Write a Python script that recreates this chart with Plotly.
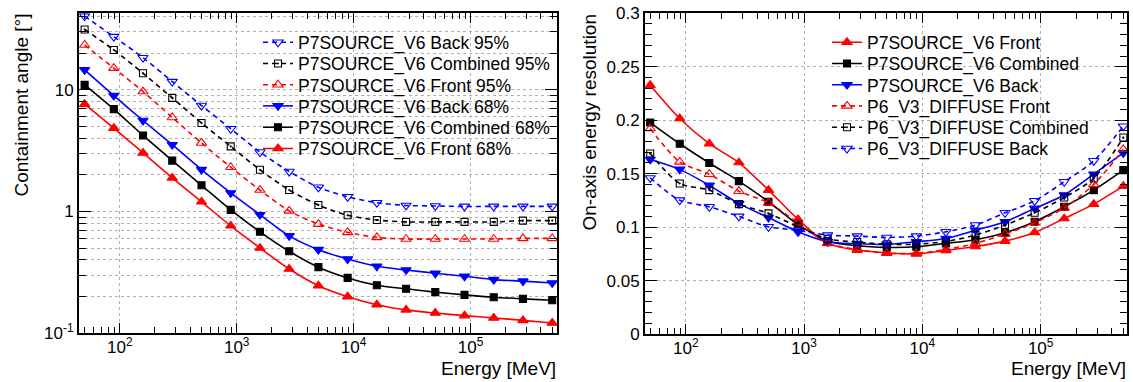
import plotly.graph_objects as go

# ---------------- data ----------------
energy = [50, 88.9, 158, 281, 500, 889, 1581, 2812, 5000, 8891, 15811, 28117,
          50000, 88914, 158114, 281171, 500000]

# Left panel: containment angle [deg]
back95 = [40.4, 27.4, 18.4, 11.7, 7.43, 4.79, 3.08, 2.13, 1.58, 1.32, 1.18, 1.12, 1.11, 1.10, 1.10, 1.10, 1.10]
comb95 = [31.4, 21.3, 13.7, 8.59, 5.34, 3.43, 2.20, 1.50, 1.13, 0.93, 0.85, 0.82, 0.82, 0.82, 0.82, 0.84, 0.84]
front95 = [23.4, 15.1, 9.69, 5.93, 3.66, 2.31, 1.50, 1.01, 0.787, 0.673, 0.612, 0.593, 0.593, 0.593, 0.593, 0.60, 0.60]
back68 = [14.6, 8.98, 5.60, 3.54, 2.21, 1.42, 0.94, 0.63, 0.485, 0.406, 0.354, 0.330, 0.310, 0.293, 0.275, 0.267, 0.258]
comb68 = [11.0, 6.95, 4.22, 2.62, 1.64, 1.03, 0.68, 0.47, 0.348, 0.284, 0.247, 0.231, 0.217, 0.206, 0.197, 0.191, 0.186]
front68 = [7.64, 4.85, 3.03, 1.89, 1.20, 0.762, 0.50, 0.336, 0.245, 0.199, 0.171, 0.155, 0.146, 0.139, 0.133, 0.127, 0.121]

# Right panel: on-axis energy resolution
p7_front = [0.2327, 0.2016, 0.178, 0.1604, 0.1346, 0.1072, 0.0848, 0.0785, 0.0760, 0.0748, 0.0782, 0.0818, 0.0869, 0.0950, 0.108, 0.1215, 0.1383]
p7_comb = [0.1978, 0.178, 0.160, 0.143, 0.1237, 0.1025, 0.087, 0.0825, 0.081, 0.0816, 0.0848, 0.0882, 0.0947, 0.105, 0.119, 0.1346, 0.1533]
p7_back = [0.1633, 0.154, 0.139, 0.122, 0.109, 0.0956, 0.0863, 0.0845, 0.0838, 0.0863, 0.0894, 0.097, 0.105, 0.1175, 0.130, 0.1495, 0.1694]
p6_front = [0.1922, 0.161, 0.1495, 0.1336, 0.1227, 0.104, 0.085, 0.079, 0.0755, 0.0755, 0.079, 0.0848, 0.0935, 0.104, 0.118, 0.140, 0.1726]
p6_comb = [0.1688, 0.1408, 0.1346, 0.1215, 0.1128, 0.1003, 0.089, 0.086, 0.084, 0.084, 0.0865, 0.0925, 0.1019, 0.1134, 0.1277, 0.1455, 0.1838]
p6_back = [0.146, 0.1252, 0.119, 0.110, 0.1003, 0.097, 0.0925, 0.0916, 0.0903, 0.0916, 0.0956, 0.1019, 0.1134, 0.1246, 0.1424, 0.162, 0.1944]

left_names = ["P7SOURCE_V6 Back 95%", "P7SOURCE_V6 Combined 95%", "P7SOURCE_V6 Front 95%",
              "P7SOURCE_V6 Back 68%", "P7SOURCE_V6 Combined 68%", "P7SOURCE_V6 Front 68%"]
right_names = ["P7SOURCE_V6 Front", "P7SOURCE_V6 Combined", "P7SOURCE_V6 Back",
               "P6_V3_DIFFUSE Front", "P6_V3_DIFFUSE Combined", "P6_V3_DIFFUSE Back"]

x_tickvals = [100, 1000, 10000, 100000]
x_ticktext = ["10<sup>2</sup>", "10<sup>3</sup>", "10<sup>4</sup>", "10<sup>5</sup>"]
y_left_tickvals = [0.1, 1, 10]
y_left_ticktext = ["10<sup>-1</sup>", "1", "10"]
y_right_tickvals = [0, 0.05, 0.1, 0.15, 0.2, 0.25, 0.3]
y_right_ticktext = ["0", "0.05", "0.1", "0.15", "0.2", "0.25", "0.3"]

# ---------------- styling ----------------
W, H = 1133, 382
FONT = "Liberation Sans, Arial, Helvetica, sans-serif"
RED, BLACK, BLUE = "#ff0000", "#000000", "#0000ff"
DASH = "5px,4px"

x_minor = [m * 10 ** k for k in range(1, 6) for m in range(2, 10)]
y_log_minor = [m * 10 ** k for k in range(-1, 2) for m in range(2, 10)]

def px_x(p):
    return p / W

def px_y(p):
    return 1 - p / H

styles_left = [
    (back95, BLUE, "triangle-down-open", 9, DASH),
    (comb95, BLACK, "square-open-dot", 7, DASH),
    (front95, RED, "triangle-up-open", 9, DASH),
    (back68, BLUE, "triangle-down", 9, "solid"),
    (comb68, BLACK, "square", 7, "solid"),
    (front68, RED, "triangle-up", 9, "solid"),
]
styles_right = [
    (p7_front, RED, "triangle-up", 9, "solid"),
    (p7_comb, BLACK, "square", 7, "solid"),
    (p7_back, BLUE, "triangle-down", 9, "solid"),
    (p6_front, RED, "triangle-up-open", 9, DASH),
    (p6_comb, BLACK, "square-open-dot", 7, DASH),
    (p6_back, BLUE, "triangle-down-open", 9, DASH),
]

fig = go.Figure()
row_centers = [42.4, 63.6, 84.8, 106.0, 127.3, 148.6]

legend_layouts = {}
li = 1
for panel, (styles, names, xa, ya, lx) in enumerate([
        (styles_left, left_names, "x", "y", 258),
        (styles_right, right_names, "x2", "y2", 827)]):
    for i, ((vals, col, sym, size, dash), name) in enumerate(zip(styles, names)):
        lname = "legend" if li == 1 else f"legend{li}"
        fig.add_trace(go.Scatter(
            x=energy, y=vals, name=name, xaxis=xa, yaxis=ya,
            mode="lines+markers",
            line=dict(color=col, width=1.6, dash=dash, shape="spline", smoothing=0.8),
            marker=dict(symbol=sym, size=size, color=col,
                        line=dict(color=col, width=1.1)),
            legend=lname,
        ))
        legend_layouts[lname] = dict(
            x=px_x(lx), y=px_y(row_centers[i]), xanchor="left", yanchor="middle",
            bgcolor="rgba(0,0,0,0)", borderwidth=0,
            font=dict(family=FONT, size=17.5, color="black"),
            itemwidth=30, tracegroupgap=0,
        )
        li += 1

grid_common = dict(gridcolor="#b0b0b0", griddash="3px,3px", gridwidth=1)
axis_common = dict(
    showline=True, linecolor="black", linewidth=2, mirror="allticks",
    ticks="inside", tickcolor="black", tickwidth=1,
    tickfont=dict(family=FONT, size=17, color="black"),
    zeroline=False, automargin=False,
)

fig.update_layout(
    width=W, height=H, margin=dict(l=0, r=0, t=0, b=0, pad=0, autoexpand=False),
    paper_bgcolor="white", plot_bgcolor="white",
    showlegend=True,
    xaxis=dict(type="log", domain=[px_x(79), px_x(557)], range=[1.651, 5.74],
               anchor="y", tickvals=x_tickvals, ticktext=x_ticktext, ticklen=10,
               ticklabelstandoff=-2,
               showgrid=True, **grid_common, **axis_common,
               minor=dict(tickvals=x_minor, ticks="inside", ticklen=6, tickcolor="black",
                          showgrid=False)),
    yaxis=dict(type="log", domain=[px_y(333), px_y(13.3)], range=[-1, 1.63],
               anchor="x", tickvals=y_left_tickvals, ticktext=y_left_ticktext, ticklen=12,
               showgrid=True, **grid_common, **axis_common,
               minor=dict(tickvals=y_log_minor, ticks="inside", ticklen=7, tickcolor="black",
                          showgrid=True, gridcolor="#b0b0b0", griddash="3px,3px")),
    xaxis2=dict(type="log", domain=[px_x(645), px_x(1127)], range=[1.655, 5.73],
                anchor="y2", tickvals=x_tickvals, ticktext=x_ticktext, ticklen=10,
                ticklabelstandoff=-2,
                showgrid=True, **grid_common, **axis_common,
                minor=dict(tickvals=x_minor, ticks="inside", ticklen=6, tickcolor="black",
                           showgrid=False)),
    yaxis2=dict(domain=[px_y(334), px_y(13.3)], range=[0, 0.3],
                anchor="x2", tickvals=y_right_tickvals, ticktext=y_right_ticktext, ticklen=12,
                showgrid=True, **grid_common, **axis_common,
                minor=dict(dtick=0.01, ticks="inside", ticklen=7, tickcolor="black",
                           showgrid=False)),
    **legend_layouts,
)

title_font = dict(family=FONT, size=19, color="black")
fig.add_annotation(text="Containment angle [°]", textangle=-90, xref="paper", yref="paper",
                   x=px_x(21), y=px_y(12), xanchor="center", yanchor="top",
                   showarrow=False, font=title_font)
fig.add_annotation(text="On-axis energy resolution", textangle=-90, xref="paper", yref="paper",
                   x=px_x(589), y=px_y(12), xanchor="center", yanchor="top",
                   showarrow=False, font=title_font)
fig.add_annotation(text="Energy [MeV]", xref="paper", yref="paper",
                   x=px_x(558), y=px_y(381), xanchor="right", yanchor="bottom",
                   showarrow=False, font=title_font)
fig.add_annotation(text="Energy [MeV]", xref="paper", yref="paper",
                   x=px_x(1128), y=px_y(381), xanchor="right", yanchor="bottom",
                   showarrow=False, font=title_font)

fig.write_html("out.html")
